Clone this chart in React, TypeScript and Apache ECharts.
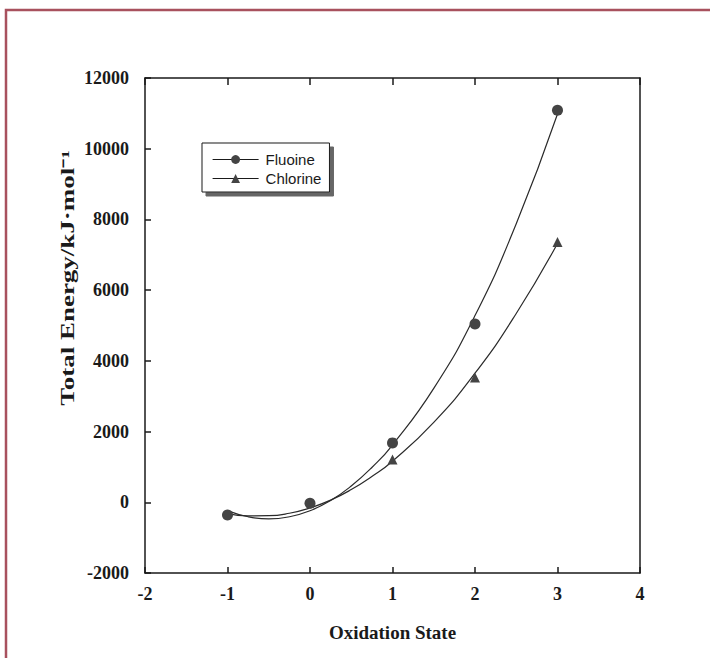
import React, { useEffect, useRef } from "react";
import * as echarts from "echarts";

// Measured data points (oxidation state vs total energy, kJ/mol)
const fluoineStates = [-1, 0, 1, 2, 3];
const fluoineValues = [-360, -30, 1680, 5040, 11090];
const chlorineStates = [1, 2, 3];
const chlorineValues = [1210, 3530, 7360];

// Fitted curves
const curveX = [-1, -0.75, -0.5, -0.25, 0, 0.25, 0.5, 0.75, 1, 1.5, 2, 2.5, 3];
const fluoineCurve = [-235, -410, -470, -410, -240, 50, 460, 985, 1620, 3220, 5280, 7880, 10980];
const chlorineCurve = [-320, -385, -380, -310, -160, 60, 360, 730, 1160, 2260, 3650, 5340, 7320];

const seriesNames = ["Fluoine", "Chlorine"];
const xAxisTitle = "Oxidation State";
const yAxisTitle = "Total Energy/kJ·mol⁻¹";

const pairs = (xs: number[], ys: number[]) => xs.map((x, i) => [x, ys[i]]);

const INK = "#1a1a1a";
const SERIF = "'Liberation Serif', 'Times New Roman', serif";
const SANS = "'Liberation Sans', Arial, sans-serif";

export default function App() {
  const ref = useRef<HTMLDivElement>(null);
  useEffect(() => {
    if (!ref.current) return;
    const chart = echarts.init(ref.current, undefined, { renderer: "svg" });
    const axisLine = { show: true, onZero: false, lineStyle: { color: INK, width: 1.5 } };
    const tickStyle = { color: INK, width: 1.5 };
    const labelStyle = {
      color: INK,
      fontFamily: SERIF,
      fontWeight: "bold" as const,
      fontSize: 18,
    };
    chart.setOption({
      animation: false,
      backgroundColor: "#ffffff",
      grid: { left: 145, right: 70, top: 78, bottom: 85, containLabel: false },
      legend: {
        data: seriesNames,
        orient: "vertical",
        left: 202,
        top: 143,
        padding: [9, 8, 6, 10],
        itemGap: 4,
        itemWidth: 46,
        itemHeight: 11,
        backgroundColor: "#ffffff",
        borderColor: INK,
        borderWidth: 1,
        borderRadius: 0,
        shadowColor: "#666666",
        shadowBlur: 0,
        shadowOffsetX: 4,
        shadowOffsetY: 4,
        lineStyle: { color: INK, width: 1.2, opacity: 1 },
        textStyle: { color: INK, fontFamily: SANS, fontSize: 15, padding: [0, 0, 0, 2] },
        selectedMode: false,
      },
      xAxis: [
        {
          type: "value",
          position: "bottom",
          min: -2,
          max: 4,
          interval: 1,
          axisLine,
          axisTick: { show: true, inside: true, length: 6, lineStyle: tickStyle },
          axisLabel: { ...labelStyle, margin: 12 },
          splitLine: { show: false },
          name: xAxisTitle,
          nameLocation: "middle",
          nameGap: 50,
          nameTextStyle: { ...labelStyle, fontSize: 19 },
        },
        {
          type: "value",
          position: "top",
          min: -2,
          max: 4,
          interval: 1,
          axisLine,
          axisTick: { show: true, inside: true, length: 7, lineStyle: tickStyle },
          axisLabel: { show: false },
          splitLine: { show: false },
        },
      ],
      yAxis: [
        {
          type: "value",
          position: "left",
          min: -2000,
          max: 12000,
          interval: 2000,
          axisLine,
          axisTick: { show: true, inside: true, length: 6, lineStyle: tickStyle },
          axisLabel: { ...labelStyle, margin: 16, formatter: (v: number) => String(v) },
          splitLine: { show: false },
        },
        {
          type: "value",
          position: "right",
          min: -2000,
          max: 12000,
          interval: 2000,
          axisLine,
          axisTick: { show: false },
          axisLabel: { show: false },
          splitLine: { show: false },
        },
      ],
      graphic: [
        {
          type: "rect",
          silent: true,
          shape: { x: 6, y: 10, width: 720, height: 660 },
          style: { fill: "none", stroke: "#a8515e", lineWidth: 2.5 },
          z: 100,
        },
        {
          type: "text",
          silent: true,
          x: 68,
          y: 278,
          rotation: Math.PI / 2,
          scaleX: 1.5,
          style: {
            text: yAxisTitle,
            fill: INK,
            font: `bold 18px ${SERIF}`,
            align: "center",
            verticalAlign: "middle",
          },
        },
      ],
      series: [
        {
          name: "Fluoine fit",
          type: "line",
          data: pairs(curveX, fluoineCurve),
          smooth: true,
          symbol: "none",
          silent: true,
          lineStyle: { color: "#2a2a2a", width: 1.2 },
          z: 2,
        },
        {
          name: "Chlorine fit",
          type: "line",
          data: pairs(curveX, chlorineCurve),
          smooth: true,
          symbol: "none",
          silent: true,
          lineStyle: { color: "#2a2a2a", width: 1.2 },
          z: 2,
        },
        {
          name: "Chlorine",
          type: "line",
          data: pairs(chlorineStates, chlorineValues),
          symbol: "triangle",
          symbolSize: 10,
          itemStyle: { color: "#444444" },
          lineStyle: { width: 0, opacity: 0 },
          z: 3,
        },
        {
          name: "Fluoine",
          type: "line",
          data: pairs(fluoineStates, fluoineValues),
          symbol: "circle",
          symbolSize: 11,
          itemStyle: { color: "#444444" },
          lineStyle: { width: 0, opacity: 0 },
          z: 4,
        },
      ],
    });
    return () => chart.dispose();
  }, []);
  return (
    <div
      ref={ref}
      style={{ position: "absolute", left: 0, top: 0, width: 710, height: 658, background: "#fff" }}
    />
  );
}
